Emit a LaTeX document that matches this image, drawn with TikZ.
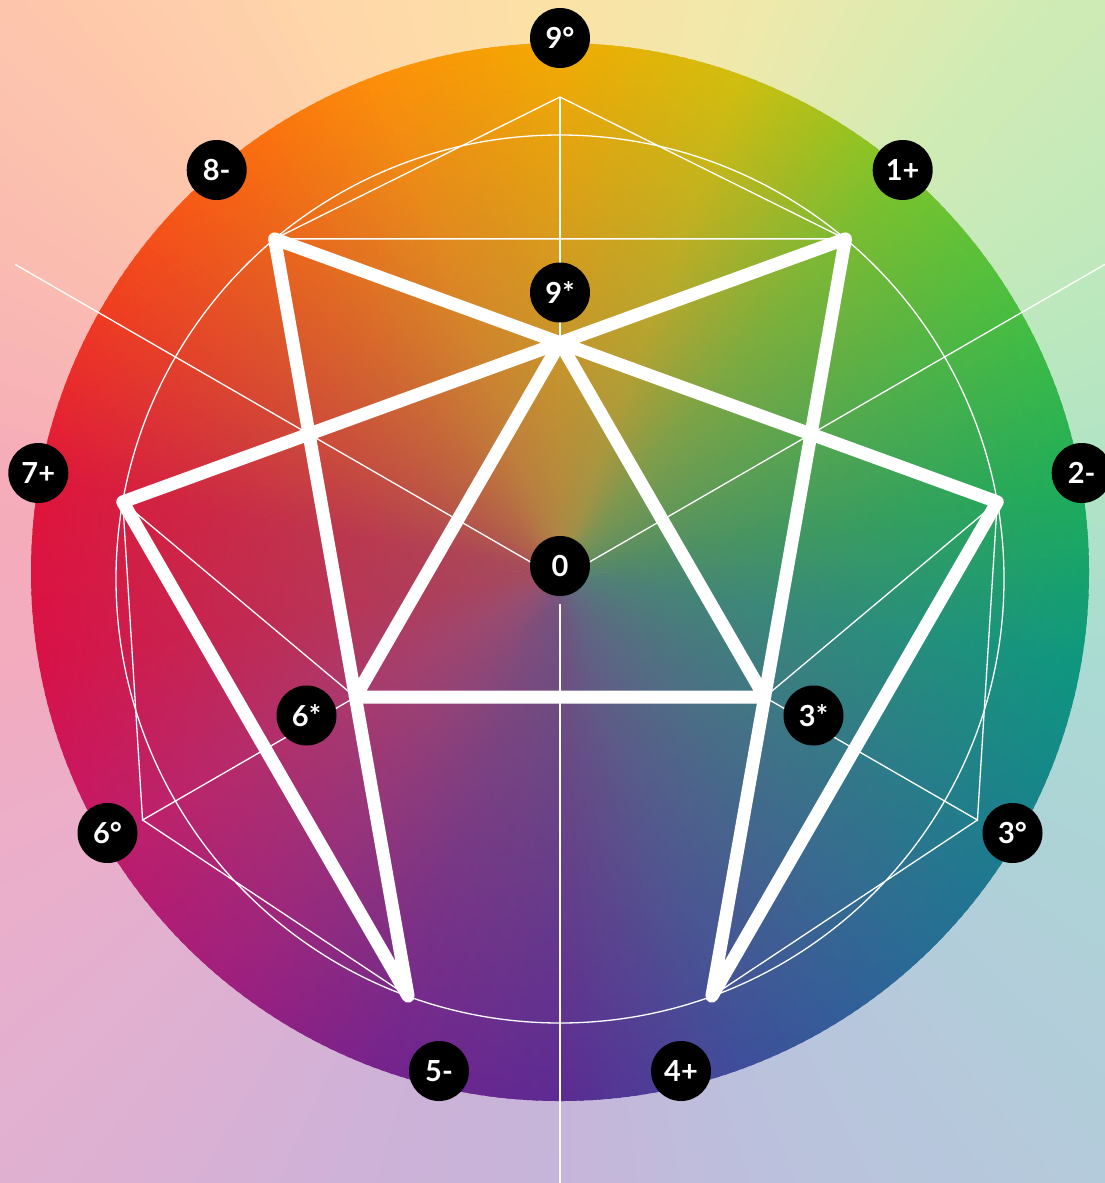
\documentclass[tikz,border=0pt]{standalone}
\usepackage{fontspec}
\setmainfont{Lato}
\usetikzlibrary{fadings}
\definecolor{s0}{HTML}{F5AC00}
\definecolor{s1}{HTML}{D2C00E}
\definecolor{s2}{HTML}{7CC62A}
\definecolor{s3}{HTML}{48C040}
\definecolor{s4}{HTML}{1EB058}
\definecolor{s5}{HTML}{0C9880}
\definecolor{s6}{HTML}{18808E}
\definecolor{s7}{HTML}{2A6898}
\definecolor{s8}{HTML}{3E4E9C}
\definecolor{s9}{HTML}{5C2A94}
\definecolor{s10}{HTML}{76228E}
\definecolor{s11}{HTML}{A21E7E}
\definecolor{s12}{HTML}{C41A6A}
\definecolor{s13}{HTML}{DA1048}
\definecolor{s14}{HTML}{E2143A}
\definecolor{s15}{HTML}{F23C20}
\definecolor{s16}{HTML}{FC6410}
\definecolor{s17}{HTML}{FF9008}
\definecolor{s18}{HTML}{F5AC00}
\definecolor{ovl}{HTML}{807070}
\tikzfading[name=cfade, inner color=transparent!35, outer color=transparent!100]
\begin{document}
\begin{tikzpicture}[x=1pt,y=-1pt,
  thinln/.style={white, line width=1.3pt, line join=miter},
  boldln/.style={white, line width=13pt, line cap=round, line join=round},
  lbl/.style={circle, fill=black, minimum size=60pt, inner sep=0pt, text=white,
    font=\fontsize{29}{29}\selectfont\bfseries}]
\useasboundingbox (0,0) rectangle (1105,1183);
\coordinate (D) at (560,572);
\coordinate (C) at (560,579);
% background pastel conic
\begin{scope}
\clip (0,0) rectangle (1105,1183);
\foreach \a in {0,2,...,358}{
  \pgfmathtruncatemacro{\ci}{\a/20}
  \pgfmathtruncatemacro{\cj}{\ci+1}
  \pgfmathtruncatemacro{\ct}{(\a-20*\ci)*5}
  \colorlet{wc}{s\cj!\ct!s\ci}
  \fill[wc!35!white] (D) -- +(\a-91.2:1000) -- +(\a-88.4:1000) -- cycle;
}
\end{scope}
% colored disc
\begin{scope}
\clip (D) circle (529);
\foreach \a in {0,...,359}{
  \pgfmathtruncatemacro{\ci}{\a/20}
  \pgfmathtruncatemacro{\cj}{\ci+1}
  \pgfmathtruncatemacro{\ct}{(\a-20*\ci)*5}
  \colorlet{wc}{s\cj!\ct!s\ci}
  \fill[wc] (D) -- +(\a-90.6:560) -- +(\a-89.1:560) -- cycle;
}
\fill[ovl, path fading=cfade] (D) circle (540);
\end{scope}
% geometry
\path (C) +(-90:482) coordinate (o9) +(150:482) coordinate (o6) +(30:482) coordinate (o3);
\path (C) +(-90:236.3) coordinate (s9) +(150:236.3) coordinate (s6) +(30:236.3) coordinate (s3);
\path (C) +(-50:444) coordinate (p1) +(-10:444) coordinate (p2) +(70:444) coordinate (p4)
          +(110:444) coordinate (p5) +(190:444) coordinate (p7) +(230:444) coordinate (p8);
\path (C) +(210:629) coordinate (ul) +(-30:629) coordinate (ur)
          +(90:25) coordinate (bt0) +(90:640) coordinate (bt);
% thin lines
\draw[thinln] (C) circle (444);
\draw[thinln] (o9) -- (p8) -- (p1) -- cycle;
\draw[thinln] (o9) -- (s9);
\draw[thinln] (o6) -- (p7) -- (s6) -- cycle;
\draw[thinln] (o6) -- (p5);
\draw[thinln] (o3) -- (p2) -- (s3) -- cycle;
\draw[thinln] (o3) -- (p4);
\draw[thinln] (C) -- (ul);
\draw[thinln] (C) -- (ur);
\draw[thinln] (bt0) -- (bt);
% bold lines
\draw[boldln] (p1) -- (p4) -- (p2) -- (p8) -- (p5) -- (p7) -- cycle;
\draw[boldln] (s9) -- (s3) -- (s6) -- cycle;
% labels
\node[lbl] (n9o) at (560,38) {9°};
\node[lbl] (n9s) at (560,292.5) {9*};
\node[lbl] (n0) at (560,566) {0};
\node[lbl] (n6s) at (306.5,715.5) {6*};
\node[lbl] (n3s) at (813.5,715.5) {3*};
\node[lbl] (n6o) at (107.5,833) {6°};
\node[lbl] (n3o) at (1012.5,833) {3°};
\node[lbl] (n5) at (439,1071) {5-};
\node[lbl] (n4) at (681,1071) {4+};
\node[lbl] (n7) at (38.3,473) {7+};
\node[lbl] (n2) at (1081.7,473) {2-};
\node[lbl] (n8) at (216.7,170) {8-};
\node[lbl] (n1) at (902.7,170) {1+};
\end{tikzpicture}
\end{document}
